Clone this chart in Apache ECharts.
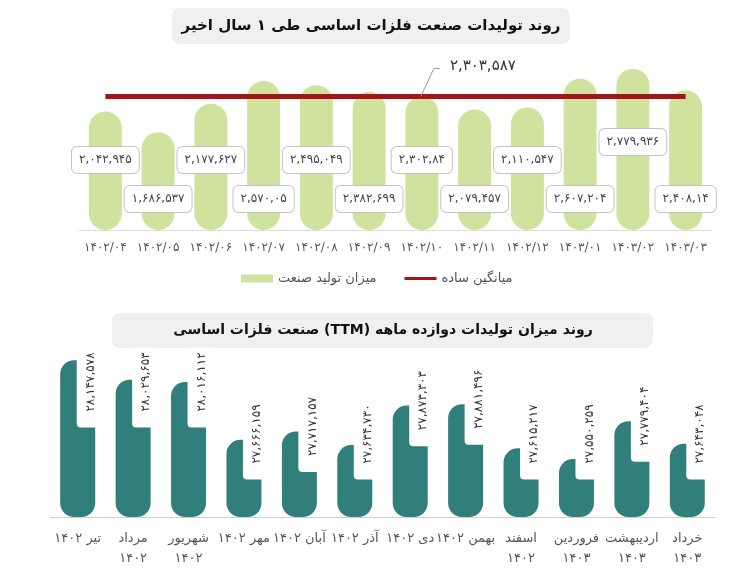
<!DOCTYPE html>
<html>
<head>
<meta charset="utf-8">
<script src="https://cdn.jsdelivr.net/npm/echarts@6/dist/echarts.min.js"></script>
<style>
  html, body { margin: 0; padding: 0; background: #fff; }
  #main { width: 755px; height: 578px; }
</style>
</head>
<body>
<div id="main"></div>
<script>
// top chart: monthly production, last 12 months
var months = ['۱۴۰۲/۰۴', '۱۴۰۲/۰۵', '۱۴۰۲/۰۶', '۱۴۰۲/۰۷', '۱۴۰۲/۰۸', '۱۴۰۲/۰۹',
              '۱۴۰۲/۱۰', '۱۴۰۲/۱۱', '۱۴۰۲/۱۲', '۱۴۰۳/۰۱', '۱۴۰۳/۰۲', '۱۴۰۳/۰۳'];
var production = [2042945, 1686537, 2177627, 2570050, 2495049, 2382699,
                  2302840, 2079457, 2110547, 2607204, 2779936, 2408140];
var productionLabels = ['۲,۰۴۲,۹۴۵', '۱,۶۸۶,۵۳۷', '۲,۱۷۷,۶۲۷', '۲,۵۷۰,۰۵', '۲,۴۹۵,۰۴۹', '۲,۳۸۲,۶۹۹',
                        '۲,۳۰۲,۸۴', '۲,۰۷۹,۴۵۷', '۲,۱۱۰,۵۴۷', '۲,۶۰۷,۲۰۴', '۲,۷۷۹,۹۳۶', '۲,۴۰۸,۱۴'];
var average = 2303587;
var averageLabel = '۲,۳۰۳,۵۸۷';

// bottom chart: twelve month trailing (TTM)
var ttmMonths = ['تیر ۱۴۰۲', 'مرداد\n۱۴۰۲', 'شهریور\n۱۴۰۲', 'مهر ۱۴۰۲', 'آبان ۱۴۰۲', 'آذر ۱۴۰۲',
                 'دی ۱۴۰۲', 'بهمن ۱۴۰۲', 'اسفند\n۱۴۰۲', 'فروردین\n۱۴۰۳', 'اردیبهشت\n۱۴۰۳', 'خرداد\n۱۴۰۳'];
var ttm = [28147578, 28029653, 28016112, 27666159, 27717157, 27634730,
           27873303, 27881496, 27615217, 27550259, 27779404, 27643048];

var title1 = 'روند تولیدات صنعت فلزات اساسی طی ۱ سال اخیر';
var title2 = 'روند میزان تولیدات دوازده ماهه (TTM) صنعت فلزات اساسی';

var FONT = 'DejaVu Sans';
var faDigits = '۰۱۲۳۴۵۶۷۸۹';
function toFa(n) {
    return n.toLocaleString('en-US').replace(/[0-9]/g, function (d) { return faDigits[+d]; });
}

var dom = document.getElementById('main');
var myChart = echarts.init(dom);

var topData = production.map(function (v, i) {
    var d = (i % 2 === 0) ? 57 : 18;
    if (i === 10) d = 75;
    return {
        value: v,
        label: { distance: d, formatter: productionLabels[i] }
    };
});

option = {
    animation: false,
    textStyle: { fontFamily: FONT },
    graphic: [
        { type: 'rect', left: 172, top: 8, shape: { width: 398, height: 36, r: 8 }, style: { fill: '#f0f0f0' } },
        { type: 'text', x: 371, y: 26, style: { text: '\u202B' + title1 + '\u202C', font: 'bold 15px ' + FONT, fill: '#111', align: 'center', verticalAlign: 'middle' } },
        { type: 'rect', left: 112, top: 313, shape: { width: 541, height: 35, r: 8 }, style: { fill: '#f0f0f0' } },
        { type: 'text', x: 383, y: 330, style: { text: '\u202B' + title2 + '\u202C', font: 'bold 14px ' + FONT, fill: '#111', align: 'center', verticalAlign: 'middle' } }
    ],
    legend: {
        data: [
            { name: 'میزان تولید صنعت', icon: 'rect' },
            { name: 'میانگین ساده', icon: 'path://M0,0 M32,8 M0,2.5 L32,2.5 L32,5.5 L0,5.5 Z' }
        ],
        left: 241,
        top: 272,
        padding: 0,
        itemWidth: 32,
        itemHeight: 8,
        itemGap: 28,
        textStyle: { fontSize: 13, color: '#555', fontFamily: FONT }
    },
    grid: [
        { left: 79, right: 43, top: 56, bottom: 348 },
        { left: 50, right: 40, top: 335, bottom: 61 }
    ],
    xAxis: [
        {
            type: 'category', gridIndex: 0, data: months,
            axisLine: { lineStyle: { color: '#dcdcdc' } },
            axisTick: { show: false },
            axisLabel: { color: '#555', fontSize: 12, margin: 12, interval: 0 }
        },
        {
            type: 'category', gridIndex: 1, data: ttmMonths,
            axisLine: { lineStyle: { color: '#d0d0d0' } },
            axisTick: { show: false },
            axisLabel: { color: '#555', fontSize: 13, lineHeight: 20, margin: 12, interval: 0 }
        }
    ],
    yAxis: [
        { type: 'value', gridIndex: 0, min: 0, max: 3000000, show: false },
        { type: 'value', gridIndex: 1, min: 27200000, max: 28300000, show: false }
    ],
    series: [
        {
            name: 'میزان تولید صنعت',
            type: 'bar',
            xAxisIndex: 0,
            yAxisIndex: 0,
            barWidth: 33,
            itemStyle: { color: '#cfe39e', borderRadius: 17 },
            label: {
                show: true,
                position: 'insideBottom',
                color: '#444',
                fontSize: 12,
                lineHeight: 16,
                backgroundColor: '#fff',
                borderColor: '#c4c4c4',
                borderWidth: 1,
                borderRadius: 5,
                padding: [5, 7]
            },
            data: topData,
            z: 2
        },
        {
            name: 'میانگین ساده',
            type: 'line',
            xAxisIndex: 0,
            yAxisIndex: 0,
            symbol: 'none',
            lineStyle: { color: '#a31519', width: 5 },
            itemStyle: { color: '#a31519' },
            data: months.map(function () { return average; }),
            z: 3
        },
        {
            // leader line + value of the average
            type: 'custom',
            xAxisIndex: 0,
            yAxisIndex: 0,
            silent: true,
            renderItem: function (params, api) {
                var p = api.coord([api.value(0), api.value(1)]);
                return {
                    type: 'group',
                    children: [
                        { type: 'polyline', shape: { points: [[p[0] - 1, p[1]], [p[0] + 12, p[1] - 28], [p[0] + 18, p[1] - 28]] },
                          style: { stroke: '#9a9a9a', lineWidth: 1, fill: null } },
                        { type: 'text', x: p[0] + 28, y: p[1] - 30,
                          style: { text: averageLabel, font: '15px ' + FONT, fill: '#333', verticalAlign: 'middle' } }
                    ]
                };
            },
            data: [[6, average]],
            z: 5
        },
        {
            name: 'TTM',
            type: 'bar',
            xAxisIndex: 1,
            yAxisIndex: 1,
            barWidth: 35,
            itemStyle: { color: '#317f7b', borderRadius: 14 },
            data: ttm
        },
        {
            // rotated white value boxes that cut into the bar tops
            type: 'custom',
            xAxisIndex: 1,
            yAxisIndex: 1,
            silent: true,
            renderItem: function (params, api) {
                var p = api.coord([api.value(0), api.value(1)]);
                var centre = Math.min(Math.max(p[1] - 5, 382), 434);
                return {
                    type: 'text',
                    x: p[0] + 13,
                    y: centre + 5.5,
                    rotation: Math.PI / 2,
                    style: {
                        text: toFa(ttm[params.dataIndex]),
                        font: '12px ' + FONT,
                        fill: '#333',
                        align: 'center',
                        verticalAlign: 'middle',
                        lineHeight: 14,
                        backgroundColor: '#fff',
                        borderRadius: 4,
                        padding: [7, 5, 7, 16]
                    }
                };
            },
            data: ttm.map(function (v, i) { return [i, v]; }),
            z: 4
        }
    ]
};

myChart.setOption(option);
</script>
</body>
</html>
